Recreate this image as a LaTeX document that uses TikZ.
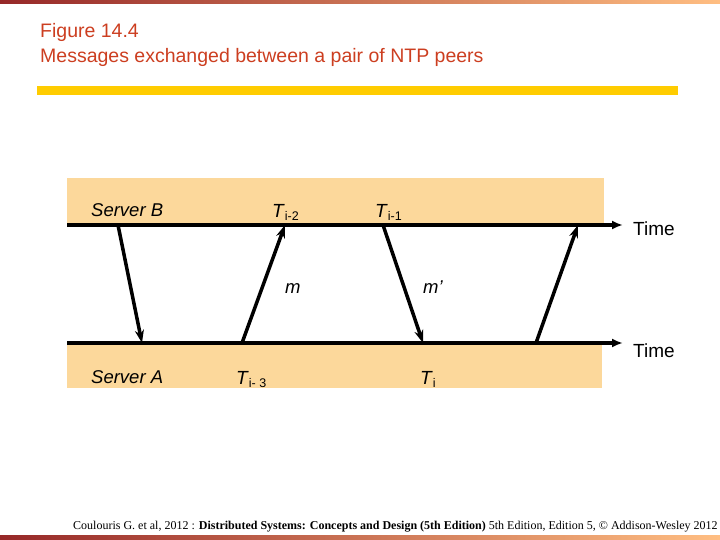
\documentclass[tikz,border=0pt]{standalone}
\usepackage{fontspec}
\setmainfont{Liberation Sans}
\newfontfamily\timesfont{Liberation Serif}
\usetikzlibrary{arrows.meta,positioning}
\definecolor{titlered}{RGB}{204,62,32}
\definecolor{bandtan}{RGB}{252,216,155}
\definecolor{baryellow}{RGB}{255,204,0}
\definecolor{grdark}{RGB}{150,40,40}
\definecolor{grmid}{RGB}{250,128,25}
\definecolor{grlight}{RGB}{255,190,130}
\tikzset
{
    timeline/.style = {line width=4pt, -{Latex[length=11pt,width=9pt]}},
    msg/.style      = {line width=3.5pt, -{Stealth[length=13pt,width=9pt]}},
    lbl/.style      = {inner sep=0pt, anchor=base west, font=\fontsize{19}{19}\selectfont},
    itlbl/.style    = {lbl, font=\fontsize{18.5}{18.5}\selectfont\itshape},
    ttl/.style      = {lbl, text=titlered, font=\fontsize{19.5}{19.5}\selectfont},
    band/.style     = {fill=bandtan, draw=none},
    grbar/.style    = {left color=grdark, middle color=grmid, right color=grlight, draw=none}
}
\newcommand{\tstamp}[1]{\textit{T}{\fontsize{12.5}{12.5}\selectfont\raisebox{-3pt}{#1}}}

\begin{document}
\begin{tikzpicture}[x=1pt, y=-1pt]
\useasboundingbox (0,0) rectangle (720,540);

%% frame
\shade[grbar] (0,0) rectangle (720,4);
\shade[grbar] (0,535) rectangle (720,540);
\fill[baryellow] (37,86) rectangle (678,95);
\node (fig)   [ttl] at (40,38) {Figure 14.4};
\node (cap)   [ttl] at (40,63) {Messages exchanged between a pair of NTP peers};

%% servers
\fill[band] (67,178) rectangle (604,225);
\fill[band] (67,343) rectangle (602,388);
\coordinate (bstart) at (67,225);
\coordinate (bend)   at (623,225);
\coordinate (astart) at (67,343);
\coordinate (aend)   at (623,343);
\draw[timeline] (bstart) -- (bend);
\draw[timeline] (astart) -- (aend);

\coordinate (b1) at (118,225);
\coordinate (a1) at (142,343);
\coordinate (a2) at (242,343);
\coordinate (b2) at (285,225);
\coordinate (b3) at (383,225);
\coordinate (a3) at (423,343);
\coordinate (a4) at (536,343);
\coordinate (b4) at (578,225);

\path
(b1) edge[msg] (a1)
(a2) edge[msg] (b2)
(b3) edge[msg] (a3)
(a4) edge[msg] (b4);

\node (srvb)  [itlbl] at (91,217)  {Server B};
\node (srva)  [itlbl] at (91,383)  {Server A};
\node (ti2)   [lbl]   at (272,218) {\tstamp{i-2}};
\node (ti1)   [lbl]   at (375,218) {\tstamp{i-1}};
\node (ti3)   [lbl]   at (236,384) {\tstamp{i- 3}};
\node (ti)    [lbl]   at (420,384) {\tstamp{i}};
\node (m)     [itlbl] at (285,293) {m};
\node (mp)    [itlbl] at (423,293) {m\char"0027};
\node (timeb) [lbl]   at (633,236) {Time};
\node (timea) [lbl]   at (633,357) {Time};

%% source
\node (src) [inner sep=0pt, anchor=base west, font=\timesfont\fontsize{12}{12}\selectfont] at (73,529)
  {Coulouris G. et al, 2012 : \textbf{Distributed Systems: Concepts and Design (5th Edition)} 5th Edition, Edition 5, © Addison-Wesley 2012};
\end{tikzpicture}
\end{document}
